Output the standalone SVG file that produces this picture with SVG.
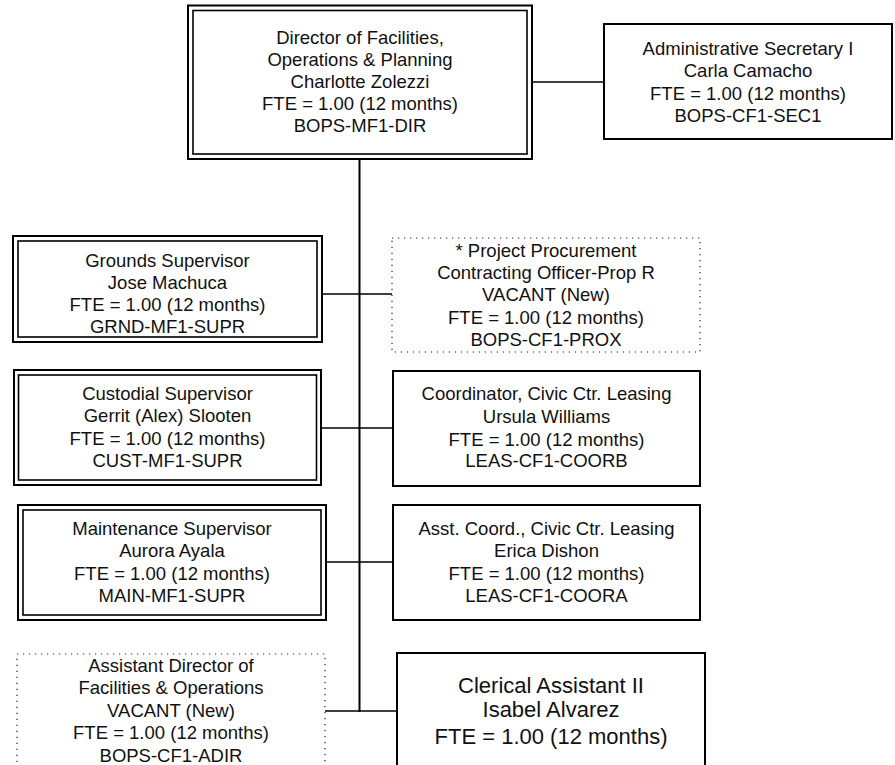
<svg xmlns="http://www.w3.org/2000/svg" width="895" height="765" viewBox="0 0 895 765">
<style>
.bg{fill:#fff}
.box{fill:#fff;stroke:#000;stroke-width:2}
.inner{fill:none;stroke:#000;stroke-width:1.6}
.dot{fill:#fff;stroke:#222;stroke-width:1.2;stroke-dasharray:1.2 4.8}
.ln{fill:none;stroke:#000;stroke-width:1.6}
.vl{fill:none;stroke:#000;stroke-width:2}
text{font-family:"Liberation Sans",Arial,sans-serif;font-size:18.5px;fill:#111;text-anchor:middle}
.big{font-size:22px}
</style>
<rect class="bg" x="0" y="0" width="895" height="765"/>
<g id="connectors">
<line class="vl" x1="359.5" y1="159" x2="359.5" y2="712"/>
<line class="ln" x1="532" y1="82" x2="604" y2="82"/>
<line class="ln" x1="322" y1="294" x2="392" y2="294"/>
<line class="ln" x1="321" y1="428" x2="393" y2="428"/>
<line class="ln" x1="326" y1="562" x2="393" y2="562"/>
<line class="ln" x1="325" y1="711" x2="397" y2="711"/>
</g>
<g id="director">
<rect class="box" x="188" y="5.5" width="344" height="153.5"/>
<rect class="inner" x="193" y="10.5" width="334" height="143.5"/>
<text x="360" y="44">Director of Facilities,</text>
<text x="360" y="66">Operations &amp; Planning</text>
<text x="360" y="88">Charlotte Zolezzi</text>
<text x="360" y="110">FTE = 1.00 (12 months)</text>
<text x="360" y="132">BOPS-MF1-DIR</text>
</g>
<g id="secretary">
<rect class="box" x="604" y="24" width="288" height="115"/>
<text x="748" y="55">Administrative Secretary I</text>
<text x="748" y="77">Carla Camacho</text>
<text x="748" y="100">FTE = 1.00 (12 months)</text>
<text x="748" y="122">BOPS-CF1-SEC1</text>
</g>
<g id="grounds">
<rect class="box" x="13" y="236" width="309" height="106"/>
<rect class="inner" x="18" y="241" width="299" height="96"/>
<text x="167.5" y="267">Grounds Supervisor</text>
<text x="167.5" y="289">Jose Machuca</text>
<text x="167.5" y="311">FTE = 1.00 (12 months)</text>
<text x="167.5" y="333">GRND-MF1-SUPR</text>
</g>
<g id="procurement">
<rect class="dot" x="392" y="238" width="308" height="114"/>
<text x="546" y="257">* Project Procurement</text>
<text x="546" y="279">Contracting Officer-Prop R</text>
<text x="546" y="301">VACANT (New)</text>
<text x="546" y="324">FTE = 1.00 (12 months)</text>
<text x="546" y="346">BOPS-CF1-PROX</text>
</g>
<g id="custodial">
<rect class="box" x="14" y="370" width="307" height="115"/>
<rect class="inner" x="18.5" y="375" width="298" height="105"/>
<text x="167.5" y="400">Custodial Supervisor</text>
<text x="167.5" y="422">Gerrit (Alex) Slooten</text>
<text x="167.5" y="445">FTE = 1.00 (12 months)</text>
<text x="167.5" y="467">CUST-MF1-SUPR</text>
</g>
<g id="coordinator">
<rect class="box" x="393" y="371" width="307" height="115"/>
<text x="546.5" y="400">Coordinator, Civic Ctr. Leasing</text>
<text x="546.5" y="423">Ursula Williams</text>
<text x="546.5" y="446">FTE = 1.00 (12 months)</text>
<text x="546.5" y="467">LEAS-CF1-COORB</text>
</g>
<g id="maintenance">
<rect class="box" x="18" y="505" width="308" height="115"/>
<rect class="inner" x="23" y="510" width="298" height="105"/>
<text x="172" y="535">Maintenance Supervisor</text>
<text x="172" y="557">Aurora Ayala</text>
<text x="172" y="580">FTE = 1.00 (12 months)</text>
<text x="172" y="602">MAIN-MF1-SUPR</text>
</g>
<g id="asst-coord">
<rect class="box" x="393" y="505" width="307" height="115"/>
<text x="546.5" y="535">Asst. Coord., Civic Ctr. Leasing</text>
<text x="546.5" y="557">Erica Dishon</text>
<text x="546.5" y="580">FTE = 1.00 (12 months)</text>
<text x="546.5" y="602">LEAS-CF1-COORA</text>
</g>
<g id="asst-director">
<rect class="dot" x="17" y="654" width="308" height="115"/>
<text x="171" y="672">Assistant Director of</text>
<text x="171" y="694">Facilities &amp; Operations</text>
<text x="171" y="717">VACANT (New)</text>
<text x="171" y="739">FTE = 1.00 (12 months)</text>
<text x="171" y="762">BOPS-CF1-ADIR</text>
</g>
<g id="clerical">
<rect class="box" x="397" y="653" width="308" height="120"/>
<text class="big" x="551" y="693">Clerical Assistant II</text>
<text class="big" x="551" y="717">Isabel Alvarez</text>
<text class="big" x="551" y="744">FTE = 1.00 (12 months)</text>
</g>
</svg>
